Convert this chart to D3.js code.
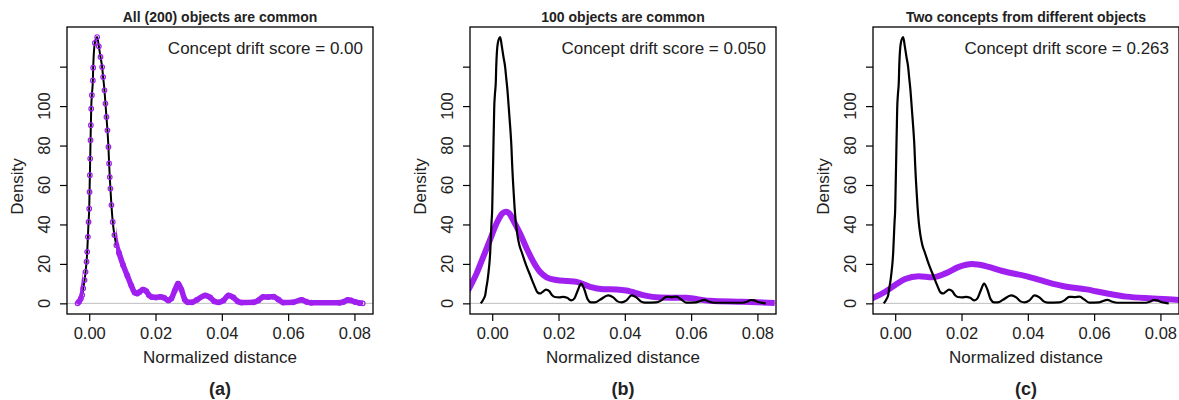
<!DOCTYPE html>
<html>
<head>
<meta charset="utf-8">
<script src="https://cdn.jsdelivr.net/npm/d3@7"></script>
<style>
  body { margin: 0; background: #fff; }
  svg { display: block; font-family: "Liberation Sans", Arial, sans-serif; }
</style>
</head>
<body>
<div id="chart"></div>
<script>
// panel texts
const titles = ["All (200) objects are common", "100 objects are common", "Two concepts from different objects"];
const scores = ["Concept drift score = 0.00", "Concept drift score = 0.050", "Concept drift score = 0.263"];
const tags = ["(a)", "(b)", "(c)"];

const xTicks = [0, 0.02, 0.04, 0.06, 0.08];
const yTicks = [0, 20, 40, 60, 80, 100, 120];
const yTickLabels = ["0", "20", "40", "60", "80", "100", ""];

// reference density (black), same in every panel: [distance, density]
const refDensity = [
  [-0.0035, 0], [-0.0031, 0.8], [-0.0025, 2.5], [-0.0021, 4.2], [-0.0018, 7.6], [-0.0014, 11.8],
  [-0.0011, 16], [-0.0008, 21.1], [-0.0006, 26.1], [-0.0004, 33.7], [-0.0002, 41.3], [0, 48],
  [0.0001, 56.5], [0.0002, 65], [0.0003, 73.4], [0.0004, 82.7], [0.0005, 90.3], [0.0006, 98.7],
  [0.0008, 105.5], [0.0011, 113], [0.0012, 119.5], [0.0017, 132], [0.0024, 135], [0.0029, 130.3],
  [0.0034, 124.9], [0.0039, 119.8], [0.0042, 114.7], [0.0046, 108], [0.0049, 101.3], [0.0052, 94.5],
  [0.0055, 87.7], [0.0058, 79.3], [0.006, 70.9], [0.0062, 64], [0.0064, 58.2], [0.0067, 49.8],
  [0.0071, 41.3], [0.0076, 34.6], [0.0082, 29.5], [0.009, 25.5], [0.0102, 19.5], [0.0115, 14],
  [0.0127, 9], [0.0137, 5.5], [0.0145, 5], [0.0152, 5.8], [0.0162, 7], [0.0172, 6.2],
  [0.018, 4.2], [0.0189, 3.2], [0.0202, 3], [0.0214, 3.3], [0.0226, 2.8], [0.0239, 1.5],
  [0.0248, 2.5], [0.0258, 6.5], [0.0268, 10], [0.0278, 7], [0.0288, 2], [0.0298, 0.5],
  [0.031, 0.5], [0.0325, 1.8], [0.035, 4], [0.0365, 3], [0.0378, 1], [0.039, 0.5],
  [0.0405, 1.5], [0.042, 4], [0.0435, 3], [0.0448, 1], [0.046, 0.4], [0.0495, 0.5],
  [0.051, 1.5], [0.0525, 3.3], [0.054, 3.2], [0.0556, 3.4], [0.057, 2], [0.0585, 0.4],
  [0.0615, 0.5], [0.064, 1.8], [0.0655, 0.8], [0.067, 0.3], [0.0755, 0.3], [0.0768, 0.8],
  [0.078, 1.7], [0.079, 1.5], [0.0802, 0.7], [0.0815, 0.2], [0.0825, 0]
];

// compared densities (purple)
const densityB = [
  [-0.0075, 6], [-0.0067, 8.4], [-0.0047, 15.2], [-0.0027, 23.6], [-0.0007, 32], [0.0013, 40.5],
  [0.003, 45.5], [0.0041, 46.5], [0.0052, 45.5], [0.0063, 42.2], [0.0084, 35.4], [0.0104, 27.8],
  [0.0124, 21.1], [0.0144, 16], [0.0164, 13.2], [0.0194, 11.8], [0.0225, 11.3], [0.0255, 10.9],
  [0.0295, 8.4], [0.0335, 7.2], [0.0375, 7], [0.0404, 6.5], [0.0455, 4.2], [0.0505, 3],
  [0.0585, 2.8], [0.0656, 1.3], [0.0756, 0.8], [0.0852, 0.2]
];
const densityC = [
  [-0.0075, 2], [-0.0069, 2.5], [-0.003, 5.9], [0, 9.3], [0.003, 12.3], [0.0071, 13.8],
  [0.0111, 13.2], [0.0152, 15.2], [0.0192, 18.5], [0.0232, 19.9], [0.0273, 18.9], [0.0323, 16.4],
  [0.0394, 13.8], [0.0455, 10.9], [0.0505, 8.8], [0.0576, 7.1], [0.0636, 5.1], [0.0697, 3.4],
  [0.0778, 2.5], [0.0857, 1.7], [0.088, 1.4]
];
const compared = [refDensity, densityB, densityC];

const width = 1179;
const height = 400;
const panelLeft = [67, 470, 873];
const panelW = 306;
const plotTop = 27, plotBottom = 314;
const purple = "#a020f0";

const svg = d3.select("#chart")
  .append("svg")
  .attr("width", width)
  .attr("height", height);

const x = d3.scaleLinear().domain([-0.0067, 0.0856]).range([0, panelW]);
const y = d3.scaleLinear().domain([-5.4, 140.1]).range([plotBottom, plotTop]);

const line = d3.line()
  .x(d => x(d[0]))
  .y(d => y(d[1]))
  .curve(d3.curveMonotoneX);

// where the purple points of panel (a) are packed into a solid band
const defs = svg.append("defs");
const tailClip = defs.append("clipPath").attr("id", "tail");
tailClip.append("rect")
  .attr("x", 0).attr("y", 0)
  .attr("width", x(-0.0019)).attr("height", height);
tailClip.append("rect")
  .attr("x", x(0.0081)).attr("y", 0)
  .attr("width", panelW - x(0.0081)).attr("height", height);

panelLeft.forEach((left, i) => {
  const g = svg.append("g").attr("transform", `translate(${left},0)`);

  g.append("clipPath").attr("id", "clip" + i)
    .append("rect")
    .attr("x", 0).attr("y", plotTop)
    .attr("width", panelW).attr("height", plotBottom - plotTop);

  const plot = g.append("g").attr("clip-path", `url(#clip${i})`);

  plot.append("line")
    .attr("x1", 0).attr("x2", panelW)
    .attr("y1", y(0)).attr("y2", y(0))
    .attr("stroke", "#bebebe")
    .attr("stroke-width", 1);

  if (i === 0) {
    // identical curves: purple points sit on the black line
    plot.append("path")
      .datum(refDensity)
      .attr("fill", "none")
      .attr("stroke", "#000")
      .attr("stroke-width", 2)
      .attr("d", line);
    plot.append("path")
      .datum(compared[i])
      .attr("fill", "none")
      .attr("clip-path", "url(#tail)")
      .attr("stroke", purple)
      .attr("stroke-width", 5.5)
      .attr("stroke-linejoin", "round")
      .attr("d", line);
    plot.selectAll("circle")
      .data(compared[i])
      .join("circle")
      .attr("cx", d => x(d[0]))
      .attr("cy", d => y(d[1]))
      .attr("r", 2.3)
      .attr("fill", "none")
      .attr("stroke", purple)
      .attr("stroke-width", 1.2);
  } else {
    plot.append("path")
      .datum(compared[i])
      .attr("fill", "none")
      .attr("stroke", purple)
      .attr("stroke-width", 6)
      .attr("stroke-linejoin", "round")
      .attr("d", line);
    plot.append("path")
      .datum(refDensity)
      .attr("fill", "none")
      .attr("stroke", "#000")
      .attr("stroke-width", 2.2)
      .attr("d", line);
  }

  // box
  g.append("rect")
    .attr("x", 0).attr("y", plotTop)
    .attr("width", panelW).attr("height", plotBottom - plotTop)
    .attr("fill", "none")
    .attr("stroke", "#000")
    .attr("stroke-width", 1.3);

  // x axis
  const xa = g.append("g")
    .attr("transform", `translate(0,${plotBottom})`)
    .call(d3.axisBottom(x).tickValues(xTicks).tickFormat(d3.format(".2f")).tickSize(7).tickPadding(6).tickSizeOuter(0));
  xa.select(".domain").remove();
  xa.selectAll("text").attr("font-size", "16.5px").attr("font-family", "Liberation Sans, Arial, sans-serif").attr("fill", "#222");
  xa.selectAll("line").attr("stroke-width", 1.2);

  // y axis
  const ya = g.append("g")
    .call(d3.axisLeft(y).tickValues(yTicks).tickFormat("").tickSize(7).tickSizeOuter(0));
  ya.select(".domain").remove();
  ya.selectAll("line").attr("stroke-width", 1.2);

  g.append("g")
    .selectAll("text")
    .data(yTicks)
    .join("text")
    .attr("transform", (d) => `translate(-17,${y(d)}) rotate(-90)`)
    .attr("text-anchor", "middle")
    .attr("font-size", "16.5px")
    .attr("fill", "#222")
    .text((d, j) => yTickLabels[j]);

  g.append("text")
    .attr("transform", `translate(-44,${(plotTop + plotBottom) / 2 + 16}) rotate(-90)`)
    .attr("text-anchor", "middle")
    .attr("font-size", "17px")
    .attr("fill", "#222")
    .text("Density");

  g.append("text")
    .attr("x", panelW / 2).attr("y", 363)
    .attr("text-anchor", "middle")
    .attr("font-size", "17px")
    .attr("fill", "#222")
    .text("Normalized distance");

  g.append("text")
    .attr("x", panelW / 2).attr("y", 22)
    .attr("text-anchor", "middle")
    .attr("font-size", "14px")
    .attr("font-weight", "bold")
    .attr("fill", "#222")
    .text(titles[i]);

  g.append("text")
    .attr("x", panelW - 10).attr("y", 54)
    .attr("text-anchor", "end")
    .attr("font-size", "17px")
    .attr("fill", "#222")
    .text(scores[i]);

  g.append("text")
    .attr("x", panelW / 2).attr("y", 395)
    .attr("text-anchor", "middle")
    .attr("font-size", "18px")
    .attr("font-weight", "bold")
    .attr("fill", "#222")
    .text(tags[i]);
});
</script>
</body>
</html>
